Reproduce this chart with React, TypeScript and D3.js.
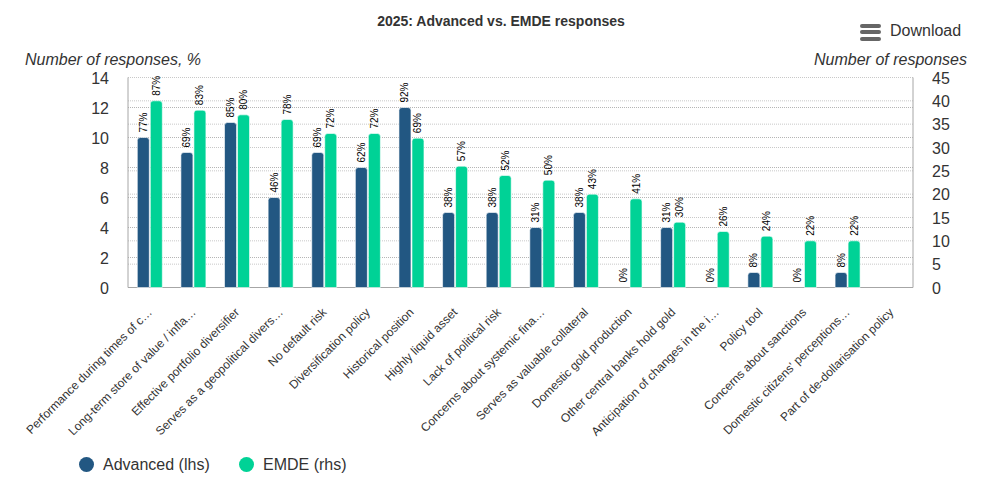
import React from "react";
import * as d3 from "d3";

const categories = [
  "Performance during times of c…",
  "Long-term store of value / infla…",
  "Effective portfolio diversifier",
  "Serves as a geopolitical divers…",
  "No default risk",
  "Diversification policy",
  "Historical position",
  "Highly liquid asset",
  "Lack of political risk",
  "Concerns about systemic fina…",
  "Serves as valuable collateral",
  "Domestic gold production",
  "Other central banks hold gold",
  "Anticipation of changes in the i…",
  "Policy tool",
  "Concerns about sanctions",
  "Domestic citizens' perceptions…",
  "Part of de-dollarisation policy",
];
const advanced = [10, 9, 11, 6, 9, 8, 12, 5, 5, 4, 5, 0, 4, 0, 1, 0, 1, 0];
const emde = [40, 38, 37, 36, 33, 33, 32, 26, 24, 23, 20, 19, 14, 12, 11, 10, 10, 0];
const advancedPct = ["77%", "69%", "85%", "46%", "69%", "62%", "92%", "38%", "38%", "31%", "38%", "0%", "31%", "0%", "8%", "0%", "8%", ""];
const emdePct = ["87%", "83%", "80%", "78%", "72%", "72%", "69%", "57%", "52%", "50%", "43%", "41%", "30%", "26%", "24%", "22%", "22%", ""];
const leftTicks = [0, 2, 4, 6, 8, 10, 12, 14];
const rightTicks = [0, 5, 10, 15, 20, 25, 30, 35, 40, 45];

const W = 990, H = 486;
const L = 128, R = 913, T = 77.5, B = 287.5;
const ADV = "#225782", EM = "#00d296";
const FONT = "'Liberation Sans', Arial, sans-serif";
const TXT = "#333333";

const x = d3.scaleBand<number>().domain(d3.range(categories.length)).range([L, R]);
const yL = d3.scaleLinear().domain([0, 14]).range([B, T]);
const yR = d3.scaleLinear().domain([0, 45]).range([B, T]);
const BW = 12;

function topRounded(cx: number, y0: number, w: number, r: number) {
  const p = d3.path();
  const a = cx - w / 2, b = cx + w / 2;
  const rr = Math.min(r, Math.max(0, B - y0));
  p.moveTo(a, B);
  p.lineTo(a, y0 + rr);
  p.quadraticCurveTo(a, y0, a + rr, y0);
  p.lineTo(b - rr, y0);
  p.quadraticCurveTo(b, y0, b, y0 + rr);
  p.lineTo(b, B);
  p.closePath();
  return p.toString();
}

export default function App() {
  const cx = (i: number) => x(i)! + x.bandwidth() / 2;
  return (
    <svg width={W} height={H} viewBox={`0 0 ${W} ${H}`} style={{ position: "absolute", left: 0, top: 0, fontFamily: FONT }}>
      <rect width={W} height={H} fill="#fff" />
      <text x={501} y={26} textAnchor="middle" fontSize={14} fontWeight="bold" fill={TXT}>2025: Advanced vs. EMDE responses</text>

      <g fill="#666666">
        <rect x={860} y={24} width={21} height={4} rx={2} />
        <rect x={860} y={30} width={21} height={4} rx={2} />
        <rect x={860} y={37} width={21} height={4} rx={2} />
      </g>
      <text x={890} y={36} fontSize={16} fill={TXT}>Download</text>

      <text x={25} y={65} fontSize={16} fontStyle="italic" fill={TXT}>Number of responses, %</text>
      <text x={967} y={65} textAnchor="end" fontSize={16} fontStyle="italic" fill={TXT}>Number of responses</text>

      {leftTicks.filter((t) => t > 0).map((t) => (
        <line key={t} x1={L} x2={R} y1={yL(t)} y2={yL(t)} stroke="#b5b5b5" strokeWidth={1} strokeDasharray="1 1" />
      ))}
      {rightTicks.filter((t) => t > 0).map((t) => (
        <line key={t} x1={L} x2={R} y1={yR(t)} y2={yR(t)} stroke="#c8c8c8" strokeWidth={1} strokeDasharray="1 1" />
      ))}
      <line x1={L} x2={L} y1={T} y2={B} stroke="#a6a6a6" />
      <line x1={R} x2={R} y1={T} y2={B} stroke="#a6a6a6" />
      <line x1={L} x2={R} y1={B} y2={B} stroke="#a6a6a6" strokeWidth={1} />

      {leftTicks.map((t) => (
        <text key={t} x={109} y={yL(t) + 6} textAnchor="end" fontSize={16} fill={TXT}>{t}</text>
      ))}
      {rightTicks.map((t) => (
        <text key={t} x={932} y={yR(t) + 6} fontSize={16} fill={TXT}>{t}</text>
      ))}

      {categories.map((c, i) => (
        <g key={c}>
          {advanced[i] > 0 && <path d={topRounded(cx(i) - 6.5, yL(advanced[i]), BW, 3)} fill={ADV} stroke="#fff" strokeWidth={0.6} />}
          {emde[i] > 0 && <path d={topRounded(cx(i) + 6.5, yR(emde[i]), BW, 3)} fill={EM} stroke="#fff" strokeWidth={0.6} />}
          {advancedPct[i] && (
            <text transform={`translate(${cx(i) - 3},${yL(advanced[i]) - 5}) rotate(-90)`} fontSize={10} fill="#000">{advancedPct[i]}</text>
          )}
          {emdePct[i] && (
            <text transform={`translate(${cx(i) + 10},${yR(emde[i]) - 5}) rotate(-90)`} fontSize={10} fill="#000">{emdePct[i]}</text>
          )}
          <text transform={`translate(${cx(i) + 3},${313}) rotate(-45)`} textAnchor="end" fontSize={12} fill={TXT}>{c}</text>
        </g>
      ))}

      <circle cx={86.5} cy={464.5} r={7.5} fill={ADV} />
      <text x={103} y={470} fontSize={16} fill={TXT}>Advanced (lhs)</text>
      <circle cx={246.5} cy={464.5} r={7.5} fill={EM} />
      <text x={263} y={470} fontSize={16} fill={TXT}>EMDE (rhs)</text>
    </svg>
  );
}
